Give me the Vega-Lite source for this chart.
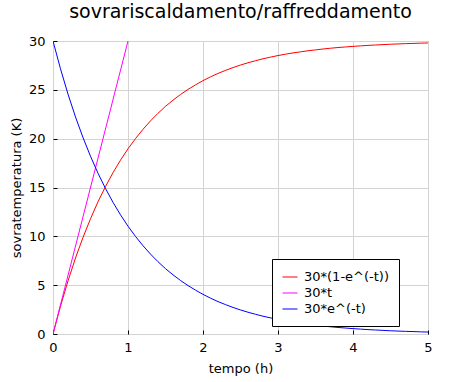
{
  "$schema": "https://vega.github.io/schema/vega-lite/v6.json",
  "width": 375,
  "height": 293,
  "autosize": {"type": "none"},
  "padding": {"left": 53, "top": 41, "right": 25, "bottom": 48},
  "background": "white",
  "config": {
    "font": "DejaVu Sans",
    "view": {"stroke": "#000", "strokeDash": [1, 1], "strokeWidth": 1},
    "axis": {"labelFont": "DejaVu Sans", "titleFont": "DejaVu Sans", "labelFontSize": 13, "titleFontSize": 13, "titleFontWeight": "normal", "labelColor": "#000", "titleColor": "#000", "gridColor": "#d3d3d3", "gridWidth": 1, "domain": false, "tickColor": "#000", "labelFlush": false}
  },
  "title": {"text": "sovrariscaldamento/raffreddamento", "fontSize": 19, "fontWeight": "normal", "font": "DejaVu Sans", "color": "#000", "offset": 13},
  "data": {"values": [
    {"t":0,"r":0,"b":30,"m":0},
    {"t":0.1,"r":2.85,"b":27.15},
    {"t":0.2,"r":5.44,"b":24.56},
    {"t":0.3,"r":7.78,"b":22.22},
    {"t":0.4,"r":9.89,"b":20.11},
    {"t":0.5,"r":11.80,"b":18.20},
    {"t":0.6,"r":13.54,"b":16.46},
    {"t":0.7,"r":15.10,"b":14.90},
    {"t":0.8,"r":16.52,"b":13.48},
    {"t":0.9,"r":17.80,"b":12.20},
    {"t":1,"r":18.96,"b":11.04,"m":30},
    {"t":1.1,"r":20.01,"b":9.99},
    {"t":1.2,"r":20.96,"b":9.04},
    {"t":1.3,"r":21.82,"b":8.18},
    {"t":1.4,"r":22.60,"b":7.40},
    {"t":1.5,"r":23.31,"b":6.69},
    {"t":1.6,"r":23.94,"b":6.06},
    {"t":1.7,"r":24.52,"b":5.48},
    {"t":1.8,"r":25.04,"b":4.96},
    {"t":1.9,"r":25.51,"b":4.49},
    {"t":2,"r":25.94,"b":4.06},
    {"t":2.1,"r":26.33,"b":3.67},
    {"t":2.2,"r":26.68,"b":3.32},
    {"t":2.3,"r":26.99,"b":3.01},
    {"t":2.4,"r":27.28,"b":2.72},
    {"t":2.5,"r":27.54,"b":2.46},
    {"t":2.6,"r":27.77,"b":2.23},
    {"t":2.7,"r":27.98,"b":2.02},
    {"t":2.8,"r":28.18,"b":1.82},
    {"t":2.9,"r":28.35,"b":1.65},
    {"t":3,"r":28.51,"b":1.49},
    {"t":3.1,"r":28.65,"b":1.35},
    {"t":3.2,"r":28.78,"b":1.22},
    {"t":3.3,"r":28.89,"b":1.11},
    {"t":3.4,"r":29.00,"b":1.00},
    {"t":3.5,"r":29.09,"b":0.91},
    {"t":3.6,"r":29.18,"b":0.82},
    {"t":3.7,"r":29.26,"b":0.74},
    {"t":3.8,"r":29.33,"b":0.67},
    {"t":3.9,"r":29.39,"b":0.61},
    {"t":4,"r":29.45,"b":0.55},
    {"t":4.1,"r":29.50,"b":0.50},
    {"t":4.2,"r":29.55,"b":0.45},
    {"t":4.3,"r":29.59,"b":0.41},
    {"t":4.4,"r":29.63,"b":0.37},
    {"t":4.5,"r":29.67,"b":0.33},
    {"t":4.6,"r":29.70,"b":0.30},
    {"t":4.7,"r":29.73,"b":0.27},
    {"t":4.8,"r":29.75,"b":0.25},
    {"t":4.9,"r":29.78,"b":0.22},
    {"t":5,"r":29.80,"b":0.20}
  ]},
  "transform": [
    {"fold": ["r", "m", "b"], "as": ["k", "v"]},
    {"filter": "isValid(datum.v)"},
    {"lookup": "k", "from": {"data": {"values": [
      {"k": "r", "s": "30*(1-e^(-t))"},
      {"k": "m", "s": "30*t"},
      {"k": "b", "s": "30*e^(-t)"}
    ]}, "key": "k", "fields": ["s"]}}
  ],
  "mark": {"type": "line", "strokeWidth": 1, "clip": true},
  "encoding": {
    "x": {"field": "t", "type": "quantitative", "scale": {"domain": [0, 5], "nice": false, "zero": false},
      "axis": {"title": "tempo (h)", "values": [0,1,2,3,4,5], "tickSize": -4, "labelPadding": 11, "titlePadding": 8}},
    "y": {"field": "v", "type": "quantitative", "scale": {"domain": [0, 30], "nice": false},
      "axis": {"title": "sovratemperatura (K)", "values": [0,5,10,15,20,25,30], "tickSize": -4, "labelPadding": 12, "titlePadding": 5}},
    "color": {"field": "s", "type": "nominal",
      "scale": {"domain": ["30*(1-e^(-t))", "30*t", "30*e^(-t)"], "range": ["#ff0000", "#ff00ff", "#0000ff"]},
      "legend": {"title": "\u00a0\u00a0", "titleOrient": "right", "titleFontSize": 13, "titlePadding": 0, "orient": "none", "legendX": 219, "legendY": 218, "strokeColor": "#000", "fillColor": "#fff", "padding": 10,
        "symbolType": "stroke", "symbolSize": 225, "symbolStrokeWidth": 1, "labelFontSize": 13, "labelFont": "DejaVu Sans", "labelColor": "#000", "labelOffset": 6, "rowPadding": 1, "labelLimit": 300}},
    "detail": {"field": "k"}
  }
}
